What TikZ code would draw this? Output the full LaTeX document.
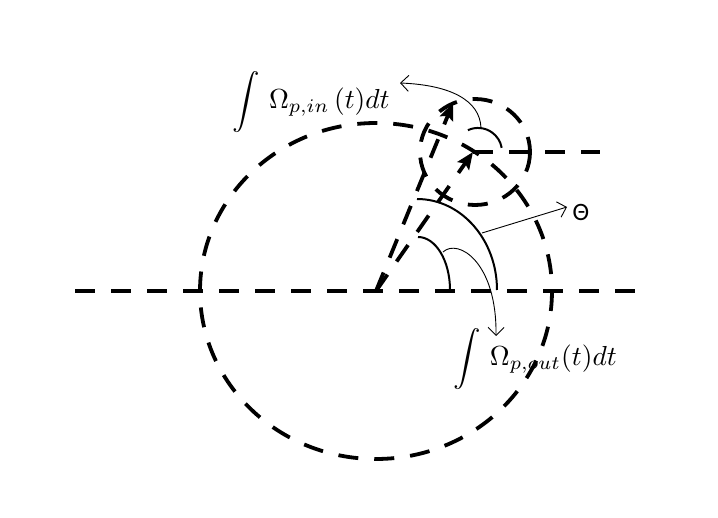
\documentclass[tikz,border=0pt]{standalone}
\usepackage{fontspec}
\newfontfamily\carl{Carlito}
\usetikzlibrary{arrows.meta}
\begin{document}
\begin{tikzpicture}[x=1pt,y=-1pt,
  dsh/.style={line width=3.8pt, dash pattern=on 20pt off 16pt},
  solidarc/.style={line width=2pt},
  thinline/.style={line width=0.9pt},
  barb/.style={-{Straight Barb[length=8pt,width=16pt,line width=0.9pt]}},
  bigtip/.style={-{Stealth[length=17pt,width=14pt,inset=3pt]}},
  lbl/.style={inner sep=0pt, scale=2.75, transform shape}
]
\useasboundingbox (0,0) rectangle (718,518);
\coordinate (O) at (376,291);
\coordinate (Lh) at (75,291);
\coordinate (Rh) at (645,291);
\coordinate (C) at (473,152);
\coordinate (Ce) at (600,152);
\coordinate (T) at (453,103);
% big circle
\draw[dsh] (376,291) ellipse[x radius=176, y radius=168];
% main horizontal axis
\draw[dsh] (Lh) -- (Rh);
% small circle
\draw[dsh] (475,152) ellipse[x radius=55, y radius=53];
% small horizontal
\draw[dsh] (C) -- (Ce);
% dashed arrows
\draw[dsh, bigtip] (O) -- (T);
\draw[dsh, bigtip] (O) -- (C);
% solid arcs
\draw[solidarc] (417,199) coordinate (a1s) arc[start angle=-90, end angle=0, x radius=80, y radius=91] coordinate (a1e);
\draw[solidarc] (418,237) coordinate (a2s) arc[start angle=-90, end angle=0, x radius=32, y radius=53] coordinate (a2e);
\draw[solidarc] (467.9,130.2) coordinate (a3s) arc[start angle=-115, end angle=-10, radius=24] coordinate (a3e);
% labels
\node[lbl] (lin) at (311,102) {$\displaystyle\int\, \Omega_{p,in}\,(t)dt$};
\node[lbl] (lout) at (535,359) {$\displaystyle\int\, \Omega_{p,out}(t)dt$};
\node[inner sep=0pt, font=\carl\fontsize{25}{28}\selectfont] (th) at (581,212) {Θ};
% thin arrows
\coordinate (pin) at (481,128);
\coordinate (pinE) at (400,83);
\draw[thinline, barb] (pin) .. controls (480,100) and (450,85) .. (pinE);
\coordinate (pout) at (443,252);
\coordinate (poutE) at (496,336);
\draw[thinline, barb] (pout) .. controls (458,238) and (497,262) .. (poutE);
\coordinate (pth) at (482,233);
\coordinate (pthE) at (567,207);
\draw[thinline, barb] (pth) -- (pthE);
\end{tikzpicture}
\end{document}
